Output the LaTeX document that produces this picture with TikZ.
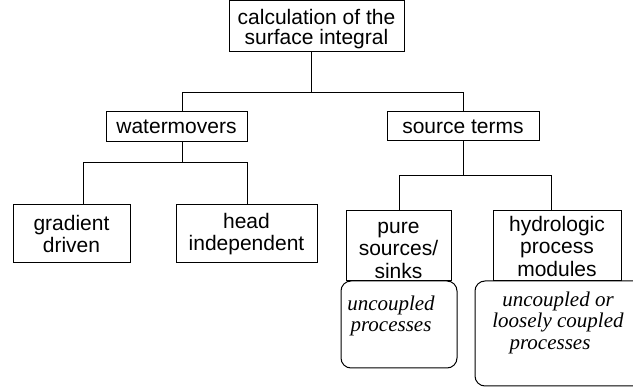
\documentclass[tikz,border=0pt]{standalone}
\usepackage{fontspec}
\setmainfont{Liberation Sans}
\newfontfamily\notefont{Liberation Serif}
\begin{document}
\begin{tikzpicture}[x=1pt,y=-1pt,
  every node/.style={inner sep=0pt,outer sep=0pt},
  box/.style={draw=black,line width=1pt,rectangle,align=center,
    font=\fontsize{21}{22.5}\selectfont},
  notebox/.style={draw=black,line width=1pt,rectangle,rounded corners=10pt},
  notetext/.style={align=center,font=\notefont\itshape\fontsize{21}{21.5}\selectfont},
  link/.style={draw=black,line width=1pt}]
\useasboundingbox (0,0) rectangle (633,390);

% tree boxes
\node[box,minimum width=175,minimum height=51,font=\fontsize{21}{20}\selectfont]
  (top) at (316.5,26.5) {\rule{0pt}{21pt}calculation of the\\surface integral};
\node[box,minimum width=141,minimum height=30] (wm) at (176.5,127) {watermovers};
\node[box,minimum width=152,minimum height=29] (st) at (463,126.5) {source terms};
\node[box,minimum width=117,minimum height=58] (gd) at (71.5,234) {gradient\\driven};
\node[box,minimum width=141,minimum height=58] (hi) at (246.5,234) {head\\independent};

% rounded note boxes under the source terms
\node[notebox,minimum width=116,minimum height=87] (r1) at (399,324.5) {};
\node[notebox,minimum width=175,minimum height=105] (r2) at (562.5,333.5) {};
\node[notetext] (r1t) at (391,316) {uncoupled\\processes};
\node[notetext] (r2t) at (558,322.7) {uncoupled or\\loosely coupled\\\hspace*{-16pt}processes};

\node[box,minimum width=105,minimum height=70,fill=white] (ps) at (398.5,246)
  {\rule{0pt}{20pt}pure\\sources/\\sinks};
\node[box,minimum width=128,minimum height=70,fill=white] (hm) at (557,246)
  {hydrologic\\process\\modules};

% bus levels of the tree
\coordinate (bus1) at (0,93);
\coordinate (bus2) at (0,163);
\coordinate (bus3) at (0,176);

% connectors
\draw[link] ([xshift=-5.5]top.south) -- ([xshift=-5.5]top.south |- bus1)
  -| ([xshift=5.5]wm.north);
\draw[link] ([xshift=-5.5]top.south |- bus1) -| (st.north);
\draw[link] ([xshift=5.5]wm.south) -- ([xshift=5.5]wm.south |- bus2)
  -| ([xshift=11.5]gd.north);
\draw[link] ([xshift=5.5]wm.south |- bus2) -| ([xshift=0.5]hi.north);
\draw[link] (st.south) -- (st.south |- bus3) -| ([xshift=0.5]ps.north);
\draw[link] (st.south |- bus3) -| ([xshift=-6]hm.north);
\end{tikzpicture}
\end{document}
